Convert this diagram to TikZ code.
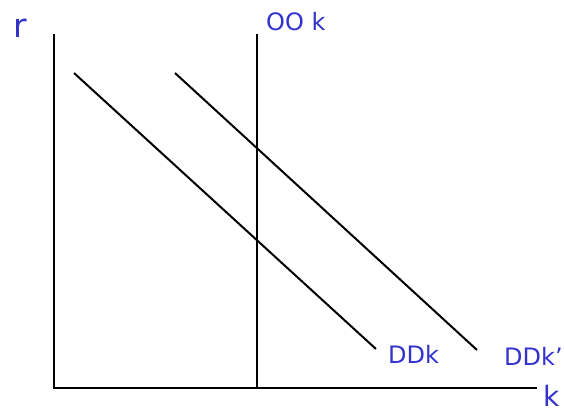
\documentclass[tikz,border=0pt]{standalone}
\usepackage{fontspec}
\setmainfont{DejaVu Sans}
\usetikzlibrary{positioning}
\definecolor{LabelBlue}{HTML}{3333CC}

\begin{document}
\begin{tikzpicture}[
  x=1pt,y=-1pt,
  every node/.style={font=\fontsize{24}{28}\selectfont,text=LabelBlue,inner sep=0pt,anchor=base west},
  biglab/.style={font=\fontsize{33}{38}\selectfont},
  axis/.style={line width=2.2pt,black},
  curve/.style={line width=2pt,black}
]
\useasboundingbox (0,0) rectangle (564,410);
% axes
\coordinate (origin) at (54,388);
\coordinate (rtop) at (54,34);
\coordinate (kend) at (537,388);
\draw[axis] (rtop) -- (origin) -- (kend);
% supply of capital
\coordinate (ootop) at (257,34);
\coordinate (oobot) at (257,388);
\draw[curve] (ootop) -- (oobot);
% demand curves
\coordinate (dda) at (74,73);
\coordinate (ddb) at (376,349);
\coordinate (ddpa) at (175,73);
\coordinate (ddpb) at (477,350);
\draw[curve] (dda) -- (ddb);
\draw[curve] (ddpa) -- (ddpb);
% labels
\node[biglab] (rlab) at (13,37) {r};
\node (oolab) at (266,30) {OO k};
\node (ddlab) at (388,363) {DDk};
\node (ddplab) at (504,365) {DDk’};
\node[font=\fontsize{28}{32}\selectfont] (klab) at (543,406) {k};
\end{tikzpicture}
\end{document}
